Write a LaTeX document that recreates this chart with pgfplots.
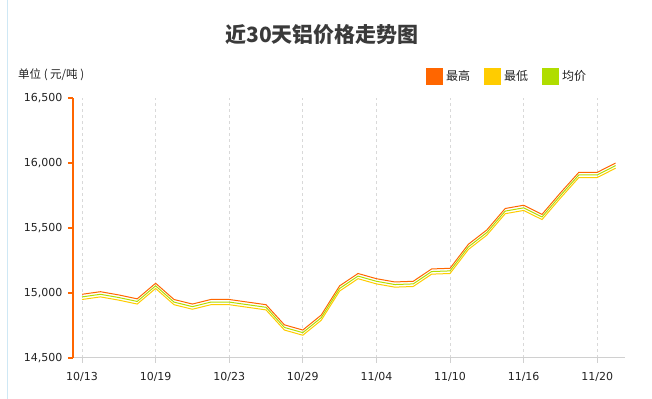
\documentclass[border=0pt]{standalone}
\usepackage{pgfplots}
\pgfplotsset{compat=1.18}
\usepackage{fontspec}
\setmainfont{DejaVu Sans}
\newfontfamily\cjk{Noto Sans CJK SC}
\definecolor{hiC}{HTML}{FF6600}
\definecolor{loC}{HTML}{FFCC00}
\definecolor{avC}{HTML}{B0DD00}
\definecolor{gridC}{HTML}{D9D9D9}
\definecolor{axC}{HTML}{D0D0D0}
\definecolor{txtC}{HTML}{222222}
\definecolor{titleC}{HTML}{3A3A3A}
\definecolor{edgeC}{HTML}{CFE8F5}

\pgfplotstableread{
i high low avg
0 14990 14950 14970
1 15010 14970 14990
2 14985 14945 14965
3 14955 14915 14935
4 15075 15035 15055
5 14950 14910 14930
6 14915 14875 14895
7 14950 14910 14930
8 14950 14910 14930
9 14930 14890 14910
10 14910 14870 14890
11 14755 14715 14735
12 14715 14675 14695
13 14830 14790 14810
14 15055 15015 15035
15 15150 15110 15130
16 15110 15070 15090
17 15085 15045 15065
18 15090 15050 15070
19 15185 15145 15165
20 15190 15150 15170
21 15375 15335 15355
22 15485 15445 15465
23 15650 15610 15630
24 15675 15635 15655
25 15605 15565 15585
26 15770 15730 15750
27 15928 15888 15908
28 15928 15888 15908
29 16000 15960 15980
}\pricetable

\begin{document}
\begin{tikzpicture}
\path[use as bounding box] (0,0) rectangle (652bp,399bp);
\draw[edgeC, line width=1bp] (7.5bp,0) -- (7.5bp,399bp);
\node[text=titleC, font=\cjk\bfseries\fontsize{21bp}{24bp}\selectfont] at (322bp,364bp) {近30天铝价格走势图};
\node[anchor=west, text=txtC, font=\cjk\fontsize{11.5bp}{13bp}\selectfont, inner sep=0pt] at (18bp,324bp) {单位 ( 元/吨 )};
\begin{axis}[
  at={(73bp,41bp)}, anchor=south west,
  scale only axis, width=552bp, height=260bp,
  xmin=-0.49, xmax=29.51,
  ymin=14500, ymax=16500,
  axis x line*=bottom, axis y line*=left,
  x axis line style={draw=axC, line width=1bp, -},
  y axis line style={draw=hiC, line width=1.3bp, -},
  xtick={0,4,8,12,16,20,24,28},
  xticklabels={10/13,10/19,10/23,10/29,11/04,11/10,11/16,11/20},
  ytick={14500,15000,15500,16000,16500},
  scaled y ticks=false,
  tick align=outside,
  major tick length=5bp,
  xtick style={draw=axC, line width=0.8bp},
  ytick style={draw=hiC, line width=1.3bp},
  xmajorgrids, 
  grid style={draw=gridC, line width=0.8bp, dash pattern=on 3bp off 3bp},
  /pgf/number format/.cd, fixed, 1000 sep={,}, assume math mode=true,
  /pgfplots/.cd,
  tick label style={text=txtC, font=\fontsize{11bp}{13bp}\selectfont},
  yticklabel style={xshift=-2bp},
  xticklabel style={yshift=-6bp},
  legend columns=-1,
  legend style={at={(0.6395,1.0846)}, anchor=west, draw=none, fill=none, inner sep=0pt,
    nodes={inner xsep=3bp, text=txtC, font=\cjk\fontsize{12bp}{14bp}\selectfont},
    /tikz/every even column/.append style={column sep=11bp}},
]
\addplot[draw=hiC, line width=1bp, mark=none,
  legend image code/.code={\fill[hiC] (0bp,-8bp) rectangle (16bp,8bp);}] table[x=i, y=high] {\pricetable};
\addlegendentry{最高}
\addplot[draw=loC, line width=1bp, mark=none,
  legend image code/.code={\fill[loC] (0bp,-8bp) rectangle (16bp,8bp);}] table[x=i, y=low] {\pricetable};
\addlegendentry{最低}
\addplot[draw=avC, line width=1bp, mark=none,
  legend image code/.code={\fill[avC] (0bp,-8bp) rectangle (16bp,8bp);}] table[x=i, y=avg] {\pricetable};
\addlegendentry{均价}
\end{axis}
\end{tikzpicture}
\end{document}
